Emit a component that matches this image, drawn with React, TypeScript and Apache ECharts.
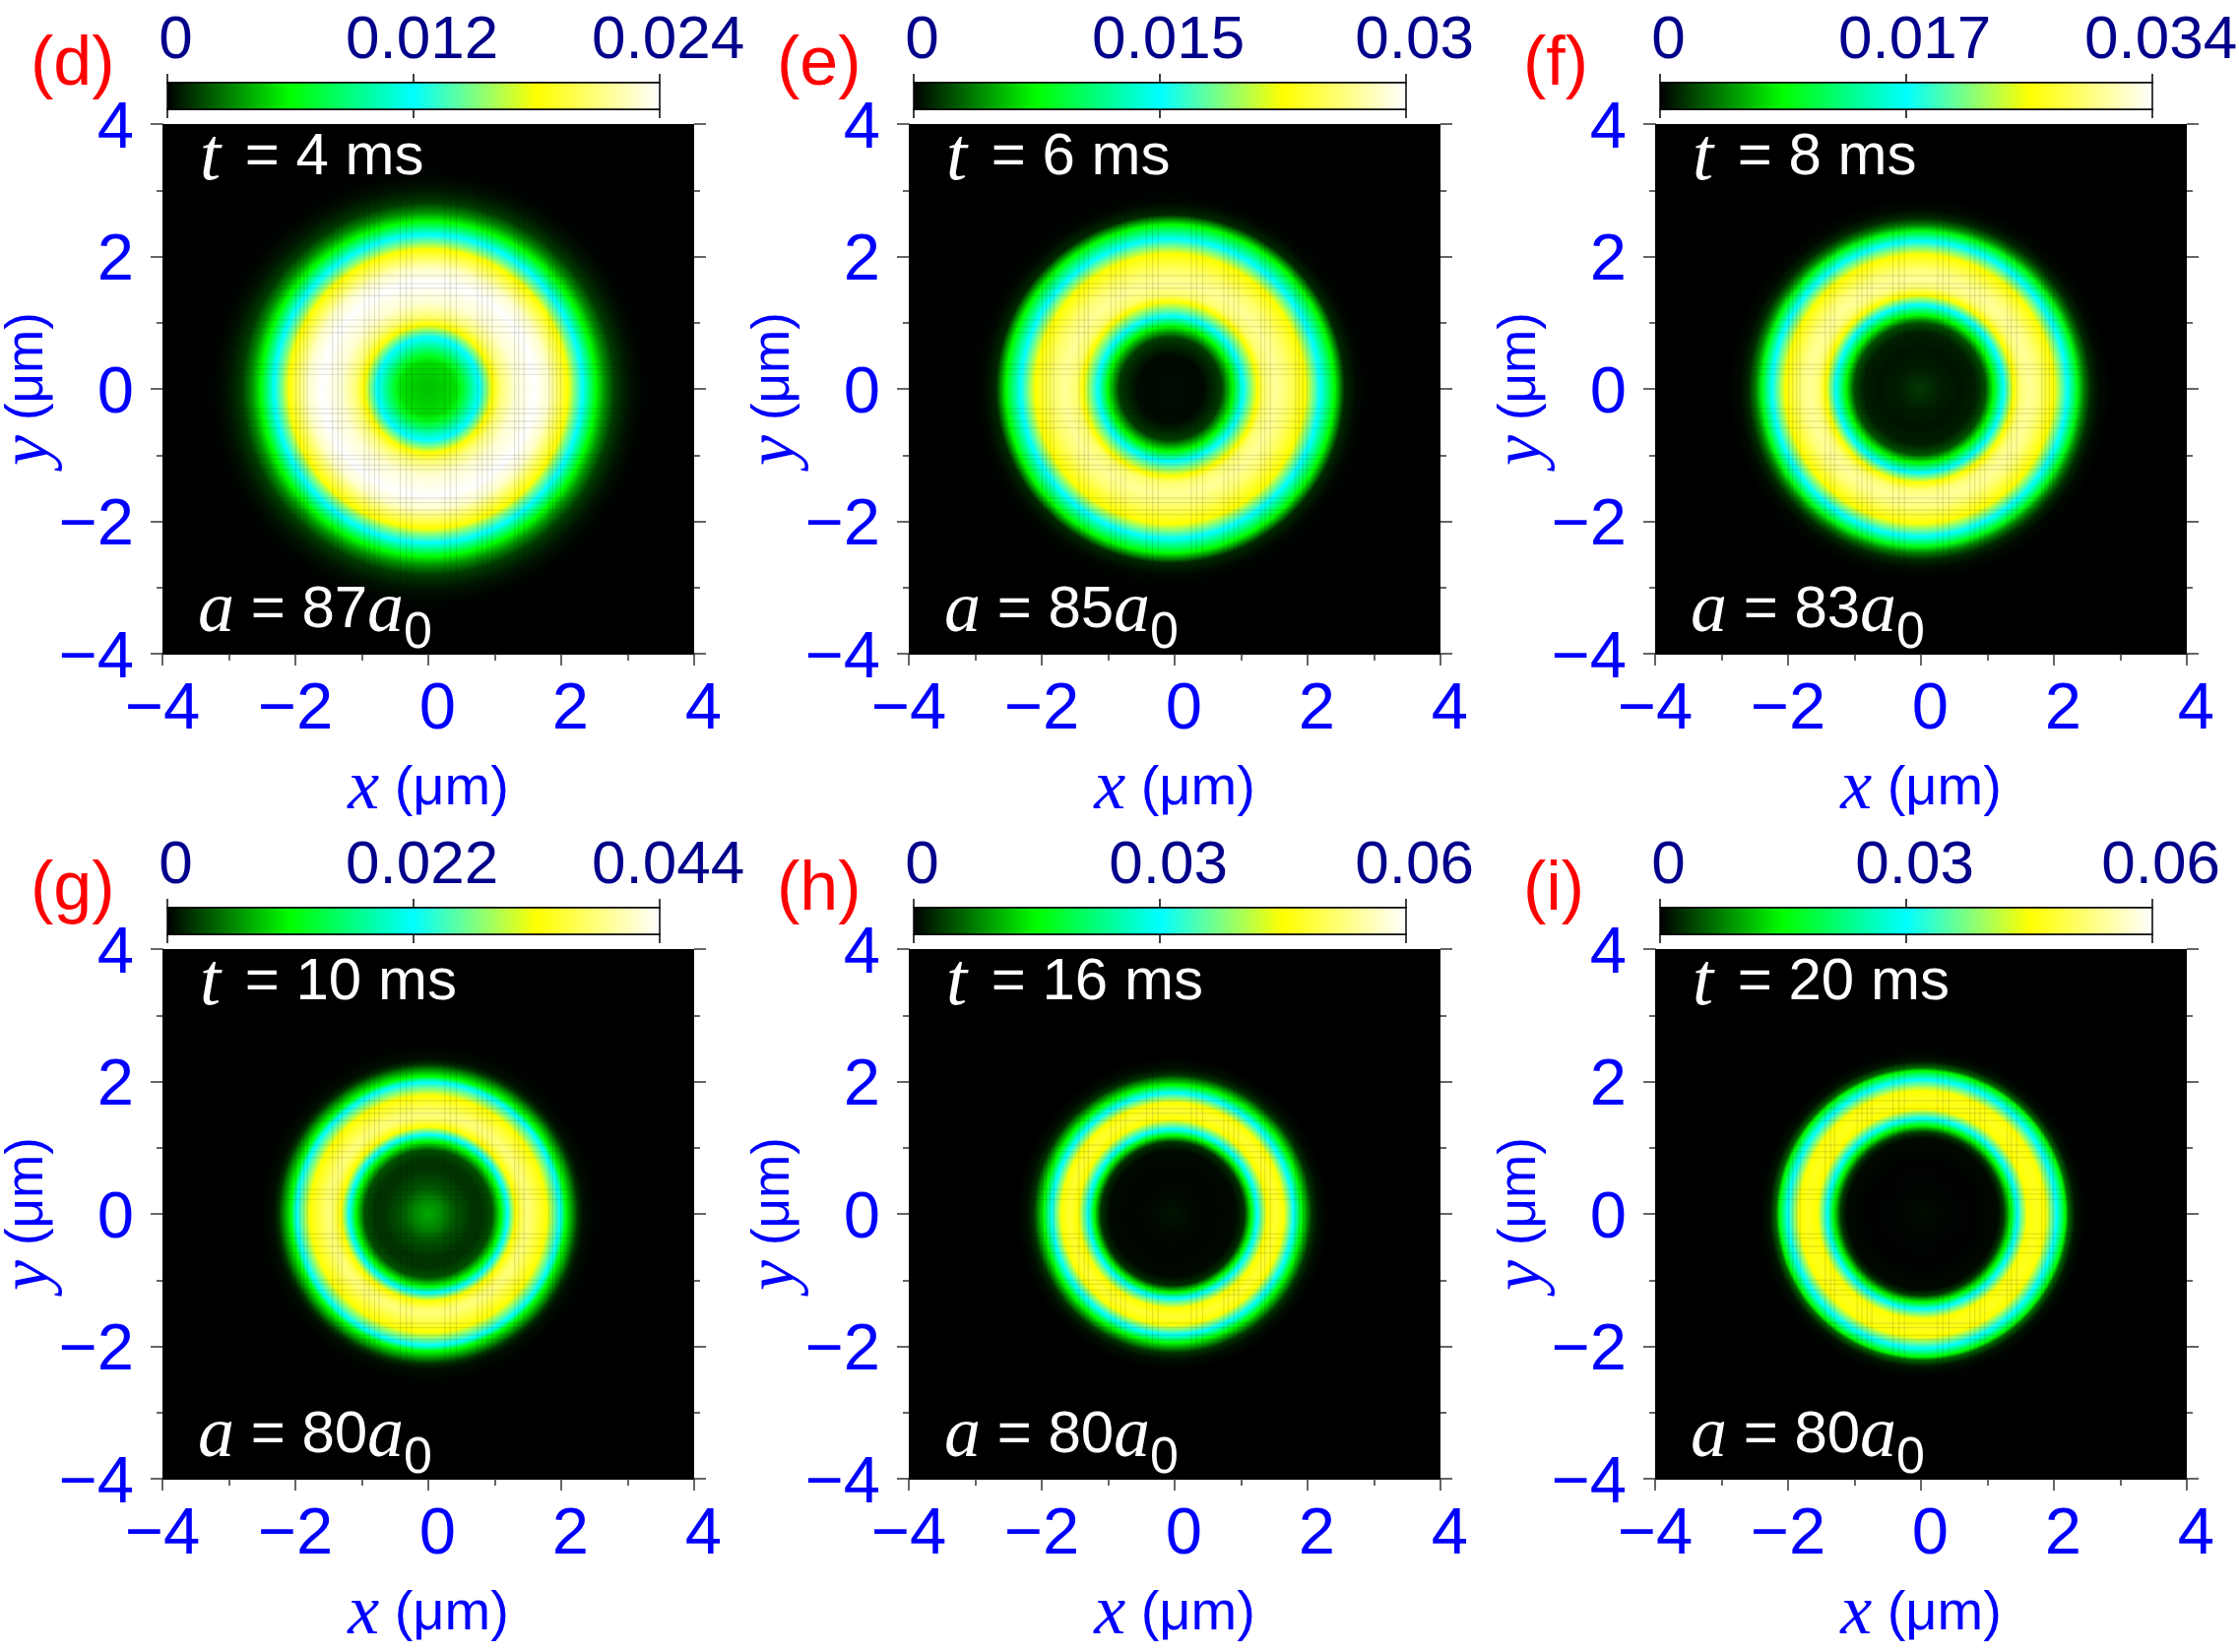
import React, { useEffect, useRef } from "react";
import * as echarts from "echarts";

const panelLetters = ["(d)", "(e)", "(f)", "(g)", "(h)", "(i)"];
const timeLabels = ["4", "6", "8", "10", "16", "20"];
const scatteringLabels = ["87", "85", "83", "80", "80", "80"];
const colorMax = [0.024, 0.03, 0.034, 0.044, 0.06, 0.06];
const colorMid = [0.012, 0.015, 0.017, 0.022, 0.03, 0.03];
const colorTickLabels = [
  ["0", "0.012", "0.024"],
  ["0", "0.015", "0.03"],
  ["0", "0.017", "0.034"],
  ["0", "0.022", "0.044"],
  ["0", "0.03", "0.06"],
  ["0", "0.03", "0.06"],
];
const ringCenterX = [0, -0.065, -0.02, 0, -0.03, 0.02];

const radiiD = [0, 0.2, 0.4, 0.5, 0.6, 0.7, 0.77, 0.85, 0.96, 1.1, 1.3, 1.6, 1.8, 1.95, 2.1, 2.2, 2.32, 2.42, 2.52, 2.65, 2.8, 3.0, 3.2, 3.4];
const densityD = [0.00456, 0.0048, 0.00528, 0.00672, 0.00864, 0.0108, 0.012, 0.0144, 0.018, 0.0209, 0.023, 0.024, 0.0228, 0.0204, 0.018, 0.0149, 0.012, 0.0089, 0.006, 0.0034, 0.0014, 0.0005, 0.0001, 0];
const radiiE = [0, 0.5, 0.77, 0.94, 1.09, 1.31, 1.41, 1.58, 1.76, 2.03, 2.25, 2.47, 2.62, 2.8, 3.0];
const densityE = [0.0003, 0.0003, 0.0018, 0.0075, 0.015, 0.0225, 0.0258, 0.027, 0.0258, 0.0225, 0.015, 0.0075, 0.0012, 0.00024, 0];
const radiiF = [0, 0.3, 0.6, 0.84, 0.99, 1.11, 1.26, 1.41, 1.53, 1.65, 1.78, 2.02, 2.22, 2.37, 2.47, 2.57, 2.7, 2.9];
const densityF = [0.00187, 0.00102, 0.00068, 0.00102, 0.00272, 0.0085, 0.017, 0.0255, 0.0296, 0.0306, 0.0296, 0.0255, 0.017, 0.0092, 0.0041, 0.0014, 0.00034, 0];
const radiiG = [0, 0.22, 0.42, 0.67, 0.81, 0.96, 1.09, 1.19, 1.31, 1.43, 1.5, 1.56, 1.78, 1.98, 2.07, 2.17, 2.25, 2.33, 2.5, 2.7];
const densityG = [0.00726, 0.00572, 0.00352, 0.0022, 0.0022, 0.00352, 0.011, 0.022, 0.033, 0.0374, 0.0383, 0.0374, 0.033, 0.022, 0.011, 0.00616, 0.0022, 0.00066, 0.00013, 0];
const radiiH = [0, 0.3, 0.6, 0.95, 1.08, 1.18, 1.27, 1.42, 1.55, 1.67, 1.82, 1.94, 1.99, 2.09, 2.19, 2.35];
const densityH = [0.0012, 0.0005, 0.00024, 0.0006, 0.003, 0.015, 0.03, 0.045, 0.048, 0.045, 0.03, 0.015, 0.0108, 0.003, 0.0009, 0];
const radiiI = [0, 0.4, 0.8, 1.14, 1.23, 1.33, 1.43, 1.58, 1.72, 1.85, 2.02, 2.15, 2.2, 2.3, 2.42, 2.55];
const densityI = [0.0007, 0.00024, 0.00012, 0.0006, 0.0036, 0.015, 0.03, 0.045, 0.0468, 0.045, 0.03, 0.015, 0.006, 0.0012, 0.00024, 0];
const radii = [radiiD, radiiE, radiiF, radiiG, radiiH, radiiI];
const densities = [densityD, densityE, densityF, densityG, densityH, densityI];

const seamX = [-1.99, -1.93, -1.87, -1.82, -1.44, -1.36, -1.3, -0.96, -0.89, -0.81, -0.74, -0.42, -0.33, -0.25, 0.25, 0.33, 0.42, 0.74, 0.81, 0.89, 0.96, 1.3, 1.36, 1.44, 1.82, 1.87, 1.93, 1.99];
const seamY = [1.71, 1.59, 1.52, 1.41, 1.04, 0.94, 0.85, 0.37, 0.3, 0.22, -0.3, -0.37, -0.49, -0.59, -1.0, -1.06, -1.15, -1.22, -1.65, -1.72, -1.83, -1.9];

const paletteStops = [0, 0.25, 0.5, 0.75, 1];
const paletteColors = [[0, 0, 0], [0, 255, 0], [0, 255, 255], [255, 255, 0], [255, 255, 255]];

const SANS = "Liberation Sans";
const SERIF = "Liberation Serif";
const BLUE = "#0000ff";
const NAVY = "#00008b";
const TICK = "#333333";

function colorAt(f: number) {
  const t = Math.max(0, Math.min(1, f));
  let k = 0;
  while (k < paletteStops.length - 2 && t > paletteStops[k + 1]) k++;
  const u = (t - paletteStops[k]) / (paletteStops[k + 1] - paletteStops[k]);
  const a = paletteColors[k], b = paletteColors[k + 1];
  const c = [0, 1, 2].map((j) => Math.round(a[j] + (b[j] - a[j]) * u));
  return `rgb(${c[0]},${c[1]},${c[2]})`;
}

const tickLabel = (v: number) => {
  if (v < 0) return "\u2212" + Math.abs(v);
  return "\u00a0" + v;
};

function buildOption() {
  const grid: any[] = [], xAxis: any[] = [], yAxis: any[] = [], series: any[] = [], graphic: any[] = [];
  panelLetters.forEach((letter, i) => {
    const col = i % 3, row = Math.floor(i / 3);
    const L = 165 + col * 758, T = 126 + row * 838;
    const W = 540, H = 538;
    const max = colorMax[i];
    const gi = grid.length;
    grid.push({ left: L, top: T, width: W, height: H, show: true, backgroundColor: "#000", borderWidth: 0, outerBoundsMode: "none" });
    grid.push({ left: L + 5, top: T - 42, width: 500, height: 27, show: false, outerBoundsMode: "none" });

    const xMain = xAxis.length;
    xAxis.push({
      type: "value", gridIndex: gi, min: -4, max: 4, interval: 2, position: "bottom",
      minorTick: { show: true, splitNumber: 2, length: 7, lineStyle: { color: TICK, width: 1.5 } },
      axisTick: { show: true, inside: false, length: 12, lineStyle: { color: TICK, width: 1.5 } },
      axisLine: { show: true, onZero: false, lineStyle: { color: "#000", width: 1 } },
      splitLine: { show: false },
      axisLabel: { show: true, color: BLUE, fontFamily: SANS, fontSize: 67, margin: 19, formatter: tickLabel, hideOverlap: false, showMinLabel: true, showMaxLabel: true },
      name: "{i|x} (\u03bcm)", nameLocation: "middle", nameGap: 97,
      nameTextStyle: { color: BLUE, fontFamily: SANS, fontSize: 56, rich: { i: { fontFamily: SERIF, fontStyle: "italic", fontSize: 72, color: BLUE } } },
    });
    const xBarTop = xAxis.length;
    xAxis.push({
      type: "value", gridIndex: gi + 1, min: 0, max, interval: colorMid[i], position: "top",
      axisTick: { show: true, length: 9, lineStyle: { color: "#000", width: 1.5 } },
      axisLine: { show: true, onZero: false, lineStyle: { color: "#000", width: 1.5 } },
      splitLine: { show: false },
      axisLabel: { show: true, color: NAVY, fontFamily: SANS, fontSize: 62, margin: 16, hideOverlap: false, showMinLabel: true, showMaxLabel: true, formatter: (_: number, k: number) => "\u00a0" + colorTickLabels[i][k] },
    });
    xAxis.push({
      type: "value", gridIndex: gi + 1, min: 0, max, interval: colorMid[i], position: "bottom",
      axisTick: { show: true, length: 9, lineStyle: { color: "#000", width: 1.5 } },
      axisLine: { show: true, onZero: false, lineStyle: { color: "#000", width: 1.5 } },
      splitLine: { show: false }, axisLabel: { show: false },
    });
    const yMain = yAxis.length;
    yAxis.push({
      type: "value", gridIndex: gi, min: -4, max: 4, interval: 2, position: "left",
      minorTick: { show: true, splitNumber: 2, length: 6, lineStyle: { color: TICK, width: 1.5 } },
      axisTick: { show: true, inside: false, length: 12, lineStyle: { color: TICK, width: 1.5 } },
      axisLine: { show: true, onZero: false, lineStyle: { color: "#000", width: 1 } },
      splitLine: { show: false },
      axisLabel: { show: true, color: BLUE, fontFamily: SANS, fontSize: 67, margin: 29, formatter: (v: number) => (v < 0 ? "\u2212" + Math.abs(v) : String(v)), showMinLabel: true, showMaxLabel: true, hideOverlap: false },
      name: "{i|y} (\u03bcm)", nameLocation: "middle", nameGap: 106, nameRotate: 90, nameMoveOverlap: false,
      nameTextStyle: { color: BLUE, fontFamily: SANS, fontSize: 53, rich: { i: { fontFamily: SERIF, fontStyle: "italic", fontSize: 70, color: BLUE } } },
    });
    yAxis.push({
      type: "value", gridIndex: gi, min: -4, max: 4, interval: 2, position: "right",
      minorTick: { show: true, splitNumber: 2, length: 6, lineStyle: { color: TICK, width: 1.5 } },
      axisTick: { show: true, inside: false, length: 12, lineStyle: { color: TICK, width: 1.5 } },
      axisLine: { show: false, onZero: false }, splitLine: { show: false }, axisLabel: { show: false },
    });
    const yBar = yAxis.length;
    yAxis.push({ type: "value", gridIndex: gi + 1, min: 0, max: 1, show: false });

    // Radial density profile drawn as nested disks, outermost first.
    const r = radii[i], d = densities[i];
    const rows = r.map((v, k) => (k === 0 ? null : [v, d[k], r[k - 1], d[k - 1]])).filter(Boolean).reverse();
    const centre = ringCenterX[i];
    series.push({
      type: "custom", name: "density " + letter, xAxisIndex: xMain, yAxisIndex: yMain, clip: true, silent: true,
      encode: { x: 0, y: 1 }, data: rows, z: 2,
      renderItem: (_: any, api: any) => {
        const rad = api.value(0), dv = api.value(1), inR = api.value(2), inD = api.value(3);
        const c = api.coord([centre, 0]);
        const pr = api.size([rad, 0])[0];
        return {
          type: "circle", shape: { cx: c[0], cy: c[1], r: pr },
          style: {
            fill: new echarts.graphic.RadialGradient(0.5, 0.5, 0.5, [
              { offset: inR / rad, color: colorAt(inD / max) },
              { offset: 1, color: colorAt(dv / max) },
            ]),
          },
        };
      },
    });
    const seamStyle = { stroke: "rgba(0,0,0,0.14)", lineWidth: 1 };
    series.push({
      type: "custom", name: "seam x", xAxisIndex: xMain, yAxisIndex: yMain, clip: true, silent: true,
      encode: { x: 0 }, data: seamX.map((v) => [v]), z: 3,
      renderItem: (_: any, api: any) => {
        const a = api.coord([api.value(0), 4]), b = api.coord([api.value(0), -4]);
        return { type: "line", shape: { x1: a[0], y1: a[1], x2: b[0], y2: b[1] }, style: seamStyle };
      },
    });
    series.push({
      type: "custom", name: "seam y", xAxisIndex: xMain, yAxisIndex: yMain, clip: true, silent: true,
      encode: { y: 0 }, data: seamY.map((v) => [v]), z: 3,
      renderItem: (_: any, api: any) => {
        const a = api.coord([-4, api.value(0)]), b = api.coord([4, api.value(0)]);
        return { type: "line", shape: { x1: a[0], y1: a[1], x2: b[0], y2: b[1] }, style: seamStyle };
      },
    });
    series.push({
      type: "custom", name: "colorbar " + letter, xAxisIndex: xBarTop, yAxisIndex: yBar, silent: true,
      encode: { x: 0 }, data: [[max]], z: 2,
      renderItem: (_: any, api: any) => {
        const a = api.coord([0, 1]), b = api.coord([api.value(0), 0]);
        return {
          type: "rect", shape: { x: a[0], y: a[1], width: b[0] - a[0], height: b[1] - a[1] },
          style: {
            fill: new echarts.graphic.LinearGradient(0, 0, 1, 0, paletteStops.map((s) => ({ offset: s, color: colorAt(s) }))),
            stroke: "#000", lineWidth: 1.5,
          },
        };
      },
    });

    graphic.push({
      type: "text", x: L - 134, y: T - 99, z: 50,
      style: { text: letter, fill: "#ff0000", font: `70px "${SANS}"`, textVerticalAlign: "top" },
    });
    graphic.push({
      type: "text", x: L + 38, y: T - 8, z: 50,
      style: {
        text: `{i|t}{n|\u00a0= ${timeLabels[i]} ms}`, fill: "#fff",
        rich: {
          i: { fontFamily: SERIF, fontStyle: "italic", fontSize: 76, fill: "#fff", color: "#fff", padding: [0, 8, 0, 0] },
          n: { fontFamily: SANS, fontSize: 60, fill: "#fff", color: "#fff" },
        },
      },
    });
    graphic.push({
      type: "text", x: L + 36, y: T + 440, z: 50,
      style: {
        text: `{i|a}{n|\u00a0= ${scatteringLabels[i]}}{i|a}{s|0}`, fill: "#fff",
        rich: {
          i: { fontFamily: SERIF, fontStyle: "italic", fontSize: 74, fill: "#fff", color: "#fff" },
          n: { fontFamily: SANS, fontSize: 60, fill: "#fff", color: "#fff" },
          s: { fontFamily: SANS, fontSize: 52, fill: "#fff", color: "#fff", padding: [48, 0, 0, 0] },
        },
      },
    });
  });
  return { animation: false, backgroundColor: "#fff", grid, xAxis, yAxis, series, graphic };
}

export default function App() {
  const ref = useRef<HTMLDivElement>(null);
  useEffect(() => {
    const chart = echarts.init(ref.current!, undefined, { renderer: "svg" });
    chart.setOption(buildOption());
    return () => chart.dispose();
  }, []);
  return <div ref={ref} style={{ position: "absolute", left: 0, top: 0, width: 2274, height: 1678 }} />;
}
